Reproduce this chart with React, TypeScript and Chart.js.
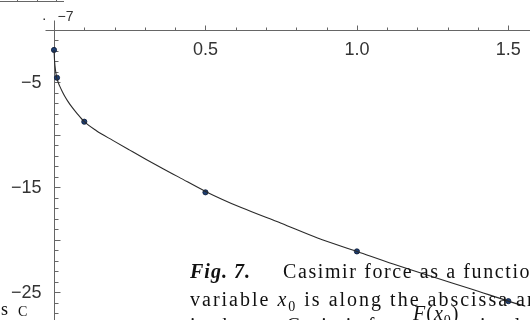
import React, { useEffect, useRef } from 'react';
import { Chart, registerables } from 'chart.js';

Chart.register(...registerables);

// Marked data points (x0, force ×10^-7)
const POINT_X = [0, 0.01, 0.1, 0.5, 1.0, 1.5];
const POINT_Y = [-1.9, -4.55, -8.74, -15.47, -21.1, -25.84];

// Smooth curve
const CURVE_X = [0, 0.002, 0.005, 0.009, 0.014, 0.02, 0.028, 0.036, 0.047, 0.06, 0.075, 0.1, 0.14, 0.194, 0.25, 0.303, 0.36, 0.412, 0.5, 0.62, 0.75, 0.87, 1.0, 1.12, 1.25, 1.38, 1.5, 1.556];
const CURVE_Y = [-1.9, -3.0, -3.85, -4.55, -5.0, -5.42, -5.9, -6.33, -6.85, -7.38, -7.92, -8.74, -9.6, -10.52, -11.45, -12.32, -13.22, -14.02, -15.38, -16.95, -18.42, -19.82, -21.1, -22.3, -23.52, -24.7, -25.84, -26.33];

// Axes
const X_MIN = 0;
const X_MAX = 1.5556;
const Y_MIN = -27.18;
const Y_MAX = 0;
const X_LABEL_VALUES = [0.5, 1.0, 1.5];
const X_LABELS = ['0.5', '1.0', '1.5'];
const X_MINOR_TICKS = [0.1, 0.2, 0.3, 0.4, 0.6, 0.7, 0.8, 0.9, 1.1, 1.2, 1.3, 1.4];
const Y_LABEL_VALUES = [-5, -15, -25];
const Y_LABELS = ['\u22125', '\u221215', '\u221225'];
const Y_MAJOR_TICKS = [-5, -10, -15, -20, -25];
const Y_MINOR_TICKS = [-1, -2, -3, -4, -6, -7, -8, -9, -11, -12, -13, -14, -16, -17, -18, -19, -21, -22, -23, -24, -26, -27];
const EXPONENT_LABEL = '\u22127';

const axesPlugin = {
  id: 'mathAxes',
  beforeDatasetsDraw(chart: any) {
    const ctx = chart.ctx;
    const xs = chart.scales.x;
    const ys = chart.scales.y;
    const ax = Math.round(xs.getPixelForValue(0)) + 0.5;
    const ay = Math.round(ys.getPixelForValue(0)) + 0.5;
    ctx.save();
    ctx.strokeStyle = '#666';
    ctx.lineWidth = 1;
    ctx.beginPath();
    ctx.moveTo(ax - 9, ay);
    ctx.lineTo(chart.width, ay);
    ctx.moveTo(ax, ay - 10);
    ctx.lineTo(ax, chart.height);
    X_MINOR_TICKS.forEach((v) => {
      const px = Math.round(xs.getPixelForValue(v)) + 0.5;
      ctx.moveTo(px, ay);
      ctx.lineTo(px, ay - 3);
    });
    X_LABEL_VALUES.forEach((v) => {
      const px = Math.round(xs.getPixelForValue(v)) + 0.5;
      ctx.moveTo(px, ay);
      ctx.lineTo(px, ay - 5);
    });
    Y_MINOR_TICKS.forEach((v) => {
      const py = Math.round(ys.getPixelForValue(v)) + 0.5;
      ctx.moveTo(ax, py);
      ctx.lineTo(ax + 4, py);
    });
    Y_MAJOR_TICKS.forEach((v) => {
      const py = Math.round(ys.getPixelForValue(v)) + 0.5;
      ctx.moveTo(ax, py);
      ctx.lineTo(ax + 6, py);
    });
    ctx.stroke();

    ctx.fillStyle = '#333';
    ctx.font = '18px "Liberation Sans", Arial, sans-serif';
    ctx.textAlign = 'center';
    ctx.textBaseline = 'top';
    X_LABEL_VALUES.forEach((v, i) => {
      ctx.fillText(X_LABELS[i], xs.getPixelForValue(v), ay + 11);
    });
    ctx.textAlign = 'right';
    ctx.textBaseline = 'middle';
    Y_LABEL_VALUES.forEach((v, i) => {
      ctx.fillText(Y_LABELS[i], ax - 13, ys.getPixelForValue(v) + 1);
    });
    ctx.font = '14px "Liberation Sans", Arial, sans-serif';
    ctx.textAlign = 'left';
    ctx.textBaseline = 'alphabetic';
    ctx.fillText(EXPONENT_LABEL, ax + 3, ay - 10);
    ctx.fillRect(ax - 11, ay - 12, 1.5, 1.5);
    ctx.restore();
  },
};

export default function App() {
  const ref = useRef<HTMLCanvasElement | null>(null);

  useEffect(() => {
    if (!ref.current) return;
    const chart = new Chart(ref.current, {
      type: 'scatter',
      data: {
        datasets: [
          {
            type: 'line',
            data: CURVE_X.map((x, i) => ({ x, y: CURVE_Y[i] })),
            borderColor: '#2a2a2a',
            borderWidth: 1.1,
            pointRadius: 0,
            cubicInterpolationMode: 'monotone',
            fill: false,
            clip: false as any,
          },
          {
            type: 'scatter',
            data: POINT_X.map((x, i) => ({ x, y: POINT_Y[i] })),
            backgroundColor: '#1d3f75',
            borderColor: '#0f1c35',
            borderWidth: 0.8,
            pointRadius: 2.6,
            clip: false as any,
          },
        ],
      },
      options: {
        animation: false,
        responsive: false,
        devicePixelRatio: 1,
        layout: { padding: { left: 54, top: 30, right: 0, bottom: 0 } },
        scales: {
          x: { type: 'linear', display: false, min: X_MIN, max: X_MAX },
          y: { type: 'linear', display: false, min: Y_MIN, max: Y_MAX },
        },
        plugins: { legend: { display: false }, tooltip: { enabled: false } },
      },
      plugins: [axesPlugin],
    });
    return () => chart.destroy();
  }, []);

  const serif: React.CSSProperties = {
    position: 'absolute',
    fontFamily: '"Liberation Serif", "Times New Roman", serif',
    fontSize: 20,
    letterSpacing: 1.6,
    whiteSpace: 'nowrap',
    color: '#111',
    lineHeight: '20px',
  };

  return (
    <div style={{ position: 'fixed', left: 0, top: 0, width: 530, height: 320, overflow: 'hidden', background: '#fff' }}>
      <canvas ref={ref} width={530} height={320} style={{ position: 'absolute', left: 0, top: 0 }} />
      <div style={{ position: 'absolute', left: 0, top: 1, width: 64, height: 1, background: '#666' }} />
      <div style={{ position: 'absolute', left: 17, top: 0, width: 1, height: 2, background: '#666' }} />
      <div style={{ position: 'absolute', left: 37, top: 0, width: 1, height: 2, background: '#666' }} />
      <div style={{ position: 'absolute', left: 56, top: 0, width: 1, height: 2, background: '#666' }} />
      <div style={{ ...serif, left: 190, top: 261, fontWeight: 'bold', fontStyle: 'italic', letterSpacing: 1 }}>Fig. 7.</div>
      <div style={{ ...serif, left: 283, top: 261 }}>Casimir force as a function of the</div>
      <div style={{ ...serif, left: 190, top: 289, letterSpacing: 2 }}>
        variable <i>x</i><sub style={{ fontSize: 14 }}>0</sub> is along the abscissa and
      </div>
      <div style={{ ...serif, left: 190, top: 315 }}>is shown. Casimir force</div>
      <div style={{ ...serif, left: 413, top: 303, letterSpacing: 1 }}>
        <i>F</i>(<i>x</i><sub style={{ fontSize: 14 }}>0</sub>)
      </div>
      <div style={{ ...serif, left: 480, top: 315 }}>is plotted</div>
      <div style={{ ...serif, left: 1, top: 299, fontSize: 18, letterSpacing: 0 }}>s</div>
      <div style={{ ...serif, left: 18, top: 302, fontSize: 14, letterSpacing: 0 }}>C</div>
    </div>
  );
}
